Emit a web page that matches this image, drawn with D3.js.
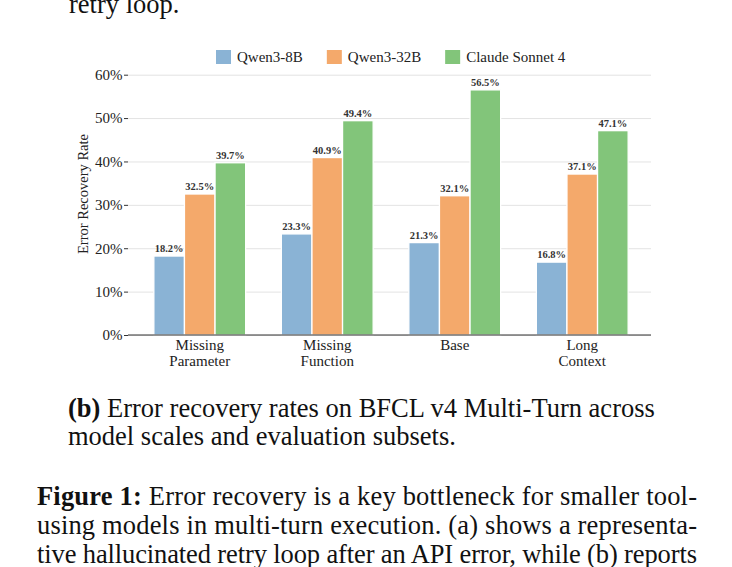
<!DOCTYPE html>
<html>
<head>
<meta charset="utf-8">
<script src="https://cdn.jsdelivr.net/npm/d3@7"></script>
<style>
  body { margin: 0; background: #fff; }
  svg { display: block; }
  text { font-family: "Liberation Serif", "DejaVu Serif", serif; }
</style>
</head>
<body>
<script>
  // chart data
  const categories = ["Missing\nParameter", "Missing\nFunction", "Base", "Long\nContext"];
  const series = ["Qwen3-8B", "Qwen3-32B", "Claude Sonnet 4"];
  const qwen8b = [18.2, 23.3, 21.3, 16.8];
  const qwen32b = [32.5, 40.9, 32.1, 37.1];
  const claude = [39.7, 49.4, 56.5, 47.1];
  const yTicks = [0, 10, 20, 30, 40, 50, 60];
  const colors = ["#8ab3d5", "#f4a96b", "#82c57a"];

  const values = [qwen8b, qwen32b, claude];

  const W = 732, H = 567;
  const plotLeft = 128, plotRight = 651, plotTop = 53, plotBottom = 335;

  const svg = d3.select("body").append("svg")
    .attr("width", W)
    .attr("height", H);

  // page text above the figure
  svg.append("text")
    .attr("x", 69).attr("y", 13)
    .attr("font-size", 26.5)
    .attr("fill", "#111")
    .text("retry loop.");

  // scales
  const x0 = d3.scaleBand().domain(categories).range([136, 646]);
  const x1 = d3.scaleBand().domain(series).range([17.85, x0.bandwidth() - 17.85]);
  const y = d3.scaleLinear().domain([0, 65]).range([plotBottom, plotTop]);

  // gridlines
  svg.append("g")
    .attr("transform", `translate(${plotLeft},0)`)
    .call(d3.axisLeft(y).tickValues(yTicks).tickSize(-(plotRight - plotLeft)).tickFormat(""))
    .call(g => g.select(".domain").remove())
    .call(g => g.selectAll("line").attr("stroke", "#e3e3e3").attr("stroke-width", 1));

  // y axis
  svg.append("g")
    .attr("transform", `translate(${plotLeft},0)`)
    .call(d3.axisLeft(y).tickValues(yTicks).tickSize(4).tickPadding(1.5).tickFormat(d => d + "%"))
    .call(g => g.select(".domain").remove())
    .call(g => g.selectAll("line").attr("stroke", "#333"))
    .call(g => g.selectAll("text")
      .attr("font-family", "Liberation Serif")
      .attr("font-size", 15)
      .attr("fill", "#222"));

  svg.append("text")
    .attr("transform", `translate(88,${(plotTop + plotBottom) / 2}) rotate(-90)`)
    .attr("text-anchor", "middle")
    .attr("font-size", 14.5)
    .attr("fill", "#222")
    .text("Error Recovery Rate");

  // bars
  const groups = svg.append("g").selectAll("g")
    .data(categories)
    .join("g")
    .attr("transform", c => `translate(${x0(c)},0)`);

  groups.selectAll("rect")
    .data((c, i) => series.map((s, j) => ({ s, j, v: values[j][i] })))
    .join("rect")
    .attr("x", d => x1(d.s))
    .attr("y", d => y(d.v))
    .attr("width", x1.bandwidth())
    .attr("height", d => y(0) - y(d.v))
    .attr("fill", d => colors[d.j])
    .attr("stroke", "#fff")
    .attr("stroke-width", 1.3);

  groups.selectAll("text.val")
    .data((c, i) => series.map((s, j) => ({ s, j, v: values[j][i] })))
    .join("text")
    .attr("class", "val")
    .attr("x", d => x1(d.s) + x1.bandwidth() / 2)
    .attr("y", d => y(d.v) - 4)
    .attr("text-anchor", "middle")
    .attr("font-size", 10.5)
    .attr("font-weight", "bold")
    .attr("fill", "#333")
    .text(d => d.v.toFixed(1) + "%");

  // x axis spine and category labels
  svg.append("line")
    .attr("x1", plotLeft).attr("x2", plotRight)
    .attr("y1", y(0)).attr("y2", y(0))
    .attr("stroke", "#333").attr("stroke-width", 1.2);

  const xLabels = svg.append("g").selectAll("text")
    .data(categories)
    .join("text")
    .attr("x", c => x0(c) + x0.bandwidth() / 2)
    .attr("y", 350)
    .attr("text-anchor", "middle")
    .attr("font-size", 15)
    .attr("fill", "#222");
  xLabels.selectAll("tspan")
    .data(c => c.split("\n"))
    .join("tspan")
    .attr("x", function () { return this.parentNode.getAttribute("x"); })
    .attr("dy", (d, i) => i === 0 ? 0 : 15.5)
    .text(d => d);

  // legend
  const legend = svg.append("g").attr("transform", "translate(0,50)");
  let lx = 216;
  series.forEach((s, i) => {
    legend.append("rect")
      .attr("x", lx).attr("y", 0)
      .attr("width", 15).attr("height", 14)
      .attr("fill", colors[i]);
    const t = legend.append("text")
      .attr("x", lx + 21).attr("y", 12)
      .attr("font-size", 15)
      .attr("fill", "#222")
      .text(s);
    lx += 21 + t.node().getComputedTextLength() + 24;
  });

  // sub caption
  const cap = svg.append("g").attr("font-size", 26.5).attr("fill", "#111");
  const c1 = cap.append("text").attr("x", 68).attr("y", 417);
  c1.append("tspan").attr("font-weight", "bold").text("(b)");
  c1.append("tspan").text(" Error recovery rates on BFCL v4 Multi-Turn across");
  cap.append("text").attr("x", 68).attr("y", 445)
    .text("model scales and evaluation subsets.");

  // figure caption
  const fig = svg.append("g").attr("font-size", 26.5).attr("fill", "#111");
  const f1 = fig.append("text").attr("x", 37).attr("y", 505)
    .attr("textLength", 660).attr("lengthAdjust", "spacing");
  f1.append("tspan").attr("font-weight", "bold").text("Figure 1:");
  f1.append("tspan").text(" Error recovery is a key bottleneck for smaller tool-");
  fig.append("text").attr("x", 37).attr("y", 534)
    .attr("textLength", 660).attr("lengthAdjust", "spacing")
    .text("using models in multi-turn execution. (a) shows a representa-");
  fig.append("text").attr("x", 37).attr("y", 563)
    .attr("textLength", 660).attr("lengthAdjust", "spacing")
    .text("tive hallucinated retry loop after an API error, while (b) reports");
</script>
</body>
</html>
